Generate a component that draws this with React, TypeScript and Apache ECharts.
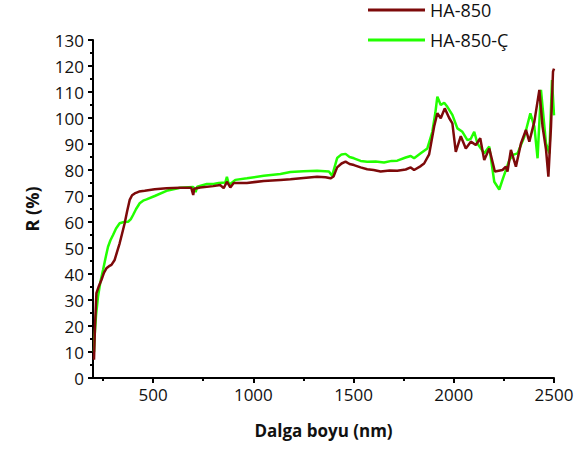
import React, { useEffect, useRef } from "react";
import * as echarts from "echarts";

const seriesNames = ["HA-850", "HA-850-Ç"];

const redX = [205, 210, 217, 230, 242, 255, 267, 280, 292, 308, 320, 333, 345, 358, 370, 383, 395, 408, 430, 458, 508, 567, 635, 690, 700, 705, 735, 800, 835, 852, 868, 885, 902, 968, 1052, 1135, 1185, 1250, 1318, 1360, 1385, 1400, 1418, 1440, 1460, 1480, 1502, 1535, 1568, 1600, 1635, 1680, 1718, 1760, 1785, 1802, 1835, 1852, 1877, 1902, 1918, 1935, 1955, 1977, 1993, 2010, 2035, 2060, 2085, 2110, 2132, 2152, 2177, 2205, 2243, 2260, 2268, 2285, 2310, 2335, 2360, 2377, 2402, 2427, 2443, 2460, 2472, 2485, 2495, 2500];
const redY = [7, 20, 32.6, 35.5, 37.7, 40.5, 42.2, 43, 43.5, 45.4, 48.5, 51.8, 55.5, 59.5, 64, 68.5, 70.3, 71, 71.7, 72, 72.6, 73, 73.2, 73.2, 70.4, 72.8, 73.3, 73.8, 74.2, 73, 75.5, 73.3, 75, 75, 75.8, 76.2, 76.4, 76.9, 77.4, 77.2, 76.8, 77.5, 81, 82.5, 83.2, 82.3, 81.9, 81, 80.3, 80, 79.4, 79.8, 79.7, 80.2, 81, 80, 81.5, 82.5, 86, 96.7, 101.8, 99.9, 103.7, 100, 97.9, 87, 93, 88.3, 90.9, 89.6, 92.2, 83.8, 88.3, 79.4, 80, 81.3, 79.4, 87.7, 81.3, 90.2, 95.4, 90.9, 98.6, 110.8, 96.7, 88, 77.4, 96.7, 117.8, 119];

const greenX = [205, 208, 215, 225, 237, 250, 262, 275, 287, 300, 315, 333, 355, 375, 388, 400, 415, 433, 450, 467, 508, 567, 635, 700, 712, 720, 768, 802, 827, 860, 868, 876, 885, 910, 968, 1052, 1135, 1185, 1250, 1318, 1377, 1393, 1418, 1440, 1460, 1480, 1502, 1535, 1568, 1610, 1652, 1690, 1718, 1760, 1785, 1802, 1835, 1868, 1893, 1908, 1918, 1935, 1952, 1968, 1993, 2018, 2043, 2068, 2085, 2102, 2118, 2152, 2177, 2202, 2227, 2243, 2277, 2295, 2318, 2352, 2382, 2402, 2418, 2435, 2460, 2477, 2490, 2500];
const greenY = [10, 16, 24, 31.3, 37, 41.5, 46, 50.5, 53, 55, 57.5, 59.5, 60, 60.1, 61, 62.7, 65, 67.2, 68.2, 68.7, 70, 72, 73.2, 73.5, 71.5, 73.6, 74.6, 74.6, 75, 75.2, 77.4, 75, 74.6, 76.2, 76.8, 77.8, 78.5, 79.2, 79.5, 79.7, 79.4, 77.8, 84.6, 86, 86.2, 85, 84.5, 83.5, 83.2, 83.3, 82.9, 83.5, 83.6, 84.8, 85.4, 84.5, 86.4, 88.3, 94.7, 102, 108.2, 105, 105.9, 104.3, 101.2, 96, 94.7, 91.5, 92, 94.7, 90.2, 86.4, 89, 75.5, 72.5, 76.2, 83.8, 85.8, 86.4, 92.8, 101.8, 96.7, 84.5, 110.8, 90.2, 86.4, 114.6, 101];

const xLabelValues = [500, 1000, 1500, 2000, 2500];
const xMinorValues = [250, 750, 1250, 1750, 2250];

const FONT = "'Open Sans', sans-serif";

export default function App() {
  const ref = useRef<HTMLDivElement>(null);
  useEffect(() => {
    if (!ref.current) return;
    const chart = echarts.init(ref.current, null, { renderer: "svg" });
    const redData = redX.map((x, i) => [x, redY[i]]);
    const greenData = greenX.map((x, i) => [x, greenY[i]]);
    chart.setOption({
      animation: false,
      backgroundColor: "#ffffff",
      textStyle: { fontFamily: FONT },
      grid: { left: 93, right: 28, top: 40, bottom: 72, containLabel: false },
      legend: {
        orient: "vertical",
        left: 368,
        top: 1,
        data: seriesNames,
        icon: "rect",
        itemWidth: 57,
        itemHeight: 3,
        itemGap: 12,
        textStyle: { fontSize: 18, fontFamily: FONT, color: "#111", lineHeight: 18 },
        padding: 0,
      },
      xAxis: [
        {
          type: "value",
          min: 200,
          max: 2500,
          name: "Dalga boyu (nm)",
          nameLocation: "middle",
          nameGap: 44,
          nameTextStyle: { fontSize: 17, fontWeight: "bold", fontFamily: FONT, color: "#111" },
          axisLine: { show: true, onZero: false, lineStyle: { color: "#000", width: 2 } },
          axisTick: { show: true, inside: false, length: 5, customValues: xLabelValues, lineStyle: { color: "#000", width: 2 } },
          axisLabel: { customValues: xLabelValues, fontSize: 17, fontFamily: FONT, color: "#111", margin: 8, formatter: (v: number) => String(v) },
          splitLine: { show: false },
        },
        {
          type: "value",
          min: 200,
          max: 2500,
          position: "bottom",
          axisLine: { show: false },
          axisTick: { show: true, inside: false, length: 3, customValues: xMinorValues, lineStyle: { color: "#000", width: 2 } },
          axisLabel: { show: false },
          splitLine: { show: false },
        },
      ],
      yAxis: {
        type: "value",
        min: 0,
        max: 130,
        interval: 10,
        name: "R (%)",
        nameLocation: "middle",
        nameGap: 52,
        nameTextStyle: { fontSize: 18, fontWeight: "bold", fontFamily: FONT, color: "#111" },
        axisLine: { show: true, lineStyle: { color: "#000", width: 2 } },
        axisTick: { show: true, inside: false, length: 5, lineStyle: { color: "#000", width: 2 } },
        minorTick: { show: true, splitNumber: 2, length: 3, lineStyle: { color: "#000", width: 2 } },
        axisLabel: { fontSize: 17, fontFamily: FONT, color: "#111", margin: 9, formatter: (v: number) => String(v) },
        splitLine: { show: false },
      },
      series: [
        {
          name: seriesNames[1],
          type: "line",
          data: greenData,
          symbol: "none",
          lineStyle: { color: "#22ff00", width: 2.5 },
          itemStyle: { color: "#22ff00" },
        },
        {
          name: seriesNames[0],
          type: "line",
          data: redData,
          symbol: "none",
          lineStyle: { color: "#7d0a0a", width: 2.5 },
          itemStyle: { color: "#7d0a0a" },
        },
      ],
    });
    return () => chart.dispose();
  }, []);
  return <div ref={ref} style={{ position: "fixed", left: 0, top: 0, width: 582, height: 450 }} />;
}
